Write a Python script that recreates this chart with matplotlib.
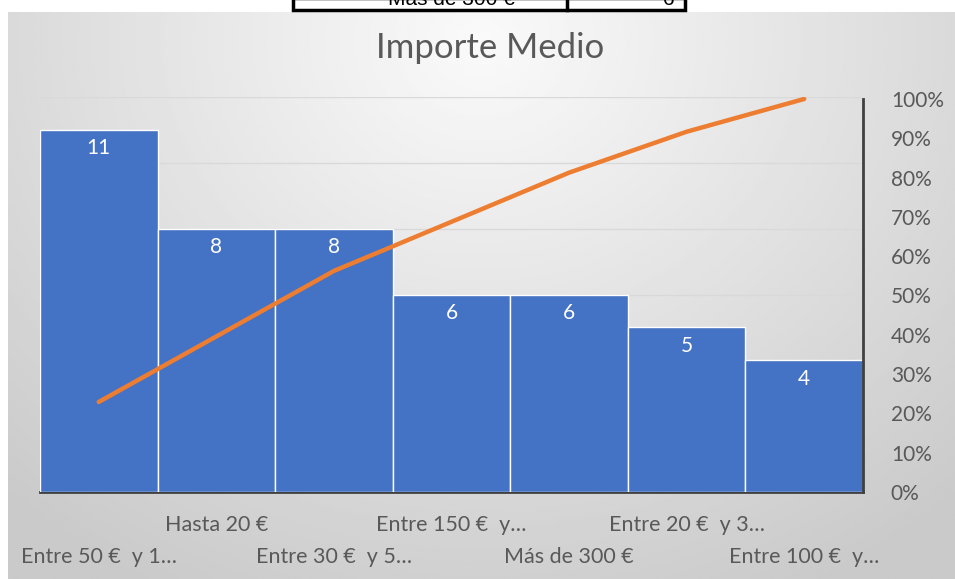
import numpy as np
import matplotlib
matplotlib.use("Agg")
import matplotlib.pyplot as plt
from matplotlib.patches import Rectangle

plt.rcParams['font.family'] = ['Lato', 'DejaVu Sans']

# datos del gráfico de Pareto
etiquetas = ["Entre 50 €  y 1…", "Hasta 20 €", "Entre 30 €  y 5…", "Entre 150 €  y…",
             "Más de 300 €", "Entre 20 €  y 3…", "Entre 100 €  y…"]
valores = [11, 8, 8, 6, 6, 5, 4]
acumulado = np.cumsum(valores) / np.sum(valores)
pct_ticks = [0, 0.1, 0.2, 0.3, 0.4, 0.5, 0.6, 0.7, 0.8, 0.9, 1.0]

W, H = 955, 579
fig = plt.figure(figsize=(W / 100, H / 100), dpi=100)

# fondo degradado del área del gráfico
bg = fig.add_axes([8 / W, 0, 1 - 8 / W, 1 - 12 / H], zorder=-2)
yy, xx = np.mgrid[0:1:200j, 0:1:300j]
dist = np.sqrt(((xx - 0.5) / 0.75) ** 2 + ((yy - 0.05) / 1.1) ** 2)
grad = 0.98 - 0.19 * np.clip(dist, 0, 1)
bg.imshow(grad, cmap='gray', vmin=0, vmax=1, aspect='auto', extent=[0, 1, 1, 0])
bg.set_axis_off()

# trozo de tabla cortado en la parte superior
fig.patches.append(Rectangle((293 / W, 1 - 10 / H), (685 - 293) / W, 12 / H,
                             transform=fig.transFigure, facecolor='white',
                             edgecolor='black', linewidth=2.5, zorder=5))
fig.add_artist(plt.Line2D([567 / W, 567 / W], [1 - 10 / H, 1], color='black', lw=2.5, zorder=6))
fig.text(515 / W, 1 - 5 / H, "Más de 300 €", ha='right', va='baseline', fontsize=15,
         family='Liberation Sans', zorder=7)
fig.text(675 / W, 1 - 5 / H, "6", ha='right', va='baseline', fontsize=15,
         family='Liberation Sans', zorder=7)

ax = fig.add_axes([40 / W, 1 - 492 / H, (863 - 40) / W, (492 - 97) / H])
ax.patch.set_alpha(0)
x = np.arange(len(valores))
ax.bar(x, valores, width=1.0, color='#4472C4', edgecolor='white', linewidth=1, zorder=3)
for xi, v in zip(x, valores):
    ax.text(xi, v - 0.25, str(v), ha='center', va='top', color='white', fontsize=15, zorder=4)

ax.set_xlim(-0.5, len(valores) - 0.5)
ax.set_ylim(0, 12)
ax.set_yticks(range(0, 13, 2))
ax.yaxis.grid(True, color='#d9d9d9', linewidth=1)
ax.set_axisbelow(True)
ax.set_xticks(x)
ax.set_xticklabels([])
ax.tick_params(axis='x', length=0)
for s in ['left', 'top', 'right']:
    ax.spines[s].set_visible(False)
ax.spines['bottom'].set_color('#404040')
ax.spines['bottom'].set_linewidth(2)

for i, lab in enumerate(etiquetas):
    off = -65 if i % 2 == 0 else -33
    ax.annotate(lab, (i, 0), xytext=(0, off), textcoords='offset pixels',
                ha='center', va='center', fontsize=15.5, color='#595959',
                annotation_clip=False)

ax2 = ax.twinx()
ax2.patch.set_alpha(0)
ax2.plot(x, acumulado, color='#ED7D31', linewidth=3.2, solid_capstyle='round', zorder=5)
ax2.set_ylim(0, 1.005)
ax2.set_yticks(pct_ticks)
ax2.set_yticklabels([f"{int(round(p * 100))}%" for p in pct_ticks])
ax2.tick_params(axis='y', length=0, pad=20, labelsize=15, labelcolor='#595959')
for s in ['left', 'top', 'bottom']:
    ax2.spines[s].set_visible(False)
ax2.spines['right'].set_color('#404040')
ax2.spines['right'].set_linewidth(2)
ax2.spines['right'].set_bounds(0, 1.0)
# twinx vuelve a activar las marcas de la izquierda
ax.tick_params(axis='y', left=False, labelleft=False, right=False)

fig.text(490 / W, 1 - 48 / H, "Importe Medio", ha='center', va='center',
         fontsize=25, color='#595959')

fig.savefig("out.png", dpi=100)
